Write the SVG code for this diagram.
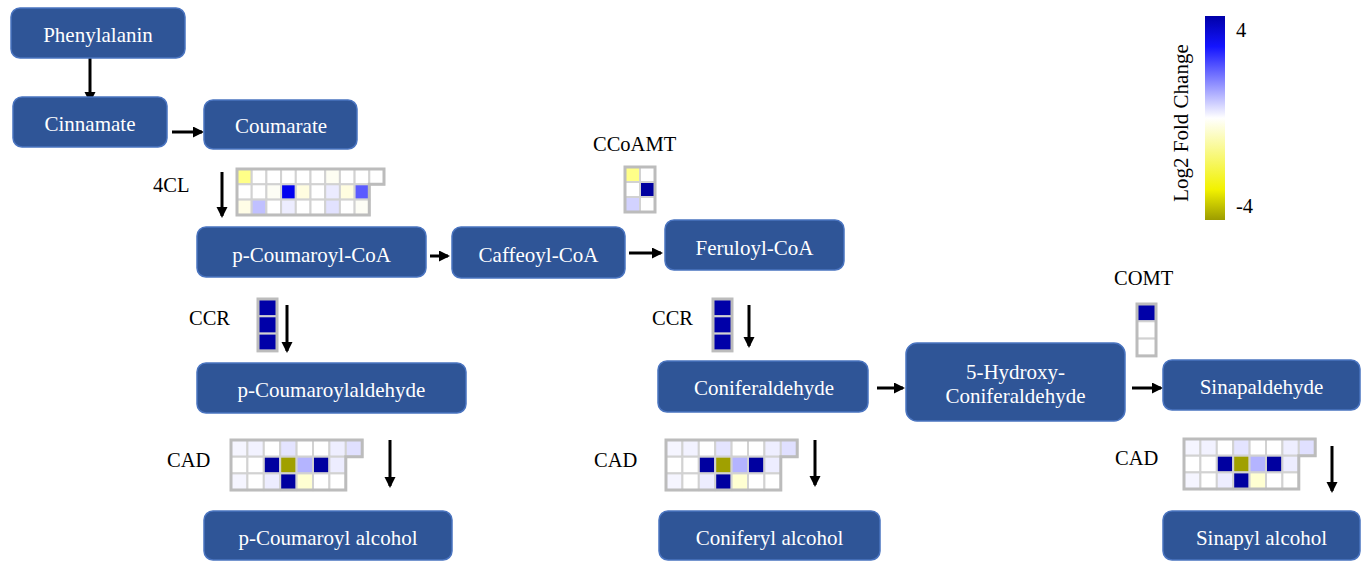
<svg xmlns="http://www.w3.org/2000/svg" xmlns:xlink="http://www.w3.org/1999/xlink" width="1362" height="561" viewBox="0 0 1362 561">
<style>
.node rect{fill:#2F5597;stroke:#4A74C0;stroke-width:1.5}
.node text{fill:#ffffff;font-family:"Liberation Serif","Times New Roman",serif;font-size:21px;text-anchor:middle}
.lbl{fill:#000;font-family:"Liberation Serif","Times New Roman",serif;font-size:20.5px}
.cell{stroke:#d2d2d2;stroke-width:2}
.frame{fill:none;stroke:#bcbcbc;stroke-width:3}
.conn line{stroke:#000;stroke-width:3;marker-end:url(#ah)}
</style>
<defs>
<marker id="ah" markerUnits="userSpaceOnUse" markerWidth="12" markerHeight="12" refX="9" refY="5.5" orient="auto">
<path d="M0,0 L11,5.5 L0,11 z" fill="#000"/>
</marker>
<linearGradient id="lg" x1="0" y1="0" x2="0" y2="1">
<stop offset="0" stop-color="#0000a8"/>
<stop offset="0.15" stop-color="#1414ff"/>
<stop offset="0.5" stop-color="#ffffff"/>
<stop offset="0.85" stop-color="#f2f200"/>
<stop offset="1" stop-color="#9c9c00"/>
</linearGradient>
<g id="cadmap">
<rect class="cell" x="0" y="0" width="16.4" height="16.7" fill="#f5f5ff"/>
<rect class="cell" x="16.4" y="0" width="16.4" height="16.7" fill="#f2f2ff"/>
<rect class="cell" x="32.8" y="0" width="16.4" height="16.7" fill="#ffffff"/>
<rect class="cell" x="49.2" y="0" width="16.4" height="16.7" fill="#e4e4ff"/>
<rect class="cell" x="65.6" y="0" width="16.4" height="16.7" fill="#ffffff"/>
<rect class="cell" x="82" y="0" width="16.4" height="16.7" fill="#ffffff"/>
<rect class="cell" x="98.4" y="0" width="16.4" height="16.7" fill="#eeeeff"/>
<rect class="cell" x="114.8" y="0" width="16.4" height="16.7" fill="#e0e0ff"/>
<rect class="cell" x="0" y="16.7" width="16.4" height="16.7" fill="#ffffff"/>
<rect class="cell" x="16.4" y="16.7" width="16.4" height="16.7" fill="#ffffff"/>
<rect class="cell" x="32.8" y="16.7" width="16.4" height="16.7" fill="#0000a0"/>
<rect class="cell" x="49.2" y="16.7" width="16.4" height="16.7" fill="#a0a000"/>
<rect class="cell" x="65.6" y="16.7" width="16.4" height="16.7" fill="#b4b4ff"/>
<rect class="cell" x="82" y="16.7" width="16.4" height="16.7" fill="#0000a0"/>
<rect class="cell" x="98.4" y="16.7" width="16.4" height="16.7" fill="#ededff"/>
<rect class="cell" x="0" y="33.4" width="16.4" height="16.7" fill="#f5f5ff"/>
<rect class="cell" x="16.4" y="33.4" width="16.4" height="16.7" fill="#ffffff"/>
<rect class="cell" x="32.8" y="33.4" width="16.4" height="16.7" fill="#ededff"/>
<rect class="cell" x="49.2" y="33.4" width="16.4" height="16.7" fill="#0000a0"/>
<rect class="cell" x="65.6" y="33.4" width="16.4" height="16.7" fill="#ffffd2"/>
<rect class="cell" x="82" y="33.4" width="16.4" height="16.7" fill="#ffffff"/>
<rect class="cell" x="98.4" y="33.4" width="16.4" height="16.7" fill="#ffffff"/>
<polygon class="frame" points="0,0 131.2,0 131.2,16.7 114.8,16.7 114.8,50.1 0,50.1"/>
</g>
</defs>
<rect width="1362" height="561" fill="#ffffff"/>

<g id="conn" class="conn">
<line x1="90" y1="58" x2="90" y2="101"/>
<line x1="172" y1="132" x2="202" y2="132"/>
<line x1="222" y1="172" x2="222" y2="216"/>
<line x1="430" y1="256" x2="448" y2="256"/>
<line x1="629" y1="253" x2="661" y2="253"/>
<line x1="287" y1="305" x2="287" y2="351"/>
<line x1="749" y1="305" x2="749" y2="346"/>
<line x1="877" y1="388" x2="903" y2="388"/>
<line x1="1132" y1="388" x2="1161" y2="388"/>
<line x1="390" y1="440" x2="390" y2="486"/>
<line x1="815" y1="440" x2="815" y2="485"/>
<line x1="1332" y1="446" x2="1332" y2="491"/>
</g>

<g id="n-phenylalanin" class="node"><rect x="11" y="8" width="174" height="50" rx="9"/><text x="98" y="42">Phenylalanin</text></g>
<g id="n-cinnamate" class="node"><rect x="13" y="97" width="154" height="50" rx="9"/><text x="90" y="131">Cinnamate</text></g>
<g id="n-coumarate" class="node"><rect x="204" y="100" width="153" height="49" rx="9"/><text x="281" y="133">Coumarate</text></g>
<g id="n-pcoumaroylcoa" class="node"><rect x="197" y="227" width="229" height="50" rx="9"/><text x="311.5" y="262">p-Coumaroyl-CoA</text></g>
<g id="n-caffeoylcoa" class="node"><rect x="452" y="227" width="173" height="51" rx="9"/><text x="538.5" y="262">Caffeoyl-CoA</text></g>
<g id="n-feruloylcoa" class="node"><rect x="665" y="220" width="179" height="50" rx="9"/><text x="754.5" y="255">Feruloyl-CoA</text></g>
<g id="n-pcoumaroylaldehyde" class="node"><rect x="197" y="363" width="269" height="50" rx="9"/><text x="331.5" y="397">p-Coumaroylaldehyde</text></g>
<g id="n-coniferaldehyde" class="node"><rect x="658" y="361" width="210" height="51" rx="9"/><text x="764" y="395">Coniferaldehyde</text></g>
<g id="n-5hydroxy" class="node"><rect x="906" y="343" width="219" height="78" rx="11"/><text x="1015.5" y="379">5-Hydroxy-</text><text x="1015.5" y="403">Coniferaldehyde</text></g>
<g id="n-sinapaldehyde" class="node"><rect x="1163" y="360" width="197" height="50" rx="9"/><text x="1261.5" y="394">Sinapaldehyde</text></g>
<g id="n-pcoumaroylalcohol" class="node"><rect x="204" y="511" width="248" height="49" rx="9"/><text x="328" y="545">p-Coumaroyl alcohol</text></g>
<g id="n-coniferylalcohol" class="node"><rect x="659" y="511" width="221" height="49" rx="9"/><text x="769.5" y="545">Coniferyl alcohol</text></g>
<g id="n-sinapylalcohol" class="node"><rect x="1163" y="511" width="197" height="49" rx="9"/><text x="1261.5" y="545">Sinapyl alcohol</text></g>

<g id="labels">
<text class="lbl" x="153" y="192">4CL</text>
<text class="lbl" x="593" y="151">CCoAMT</text>
<text class="lbl" x="189" y="325">CCR</text>
<text class="lbl" x="652" y="325">CCR</text>
<text class="lbl" x="1114" y="285">COMT</text>
<text class="lbl" x="167" y="467">CAD</text>
<text class="lbl" x="594" y="467">CAD</text>
<text class="lbl" x="1115" y="465">CAD</text>
</g>

<g id="hm-4cl" transform="translate(237,169)">
<rect class="cell" x="0" y="0" width="14.7" height="15.3" fill="#ffff88"/>
<rect class="cell" x="14.7" y="0" width="14.7" height="15.3" fill="#ffffff"/>
<rect class="cell" x="29.4" y="0" width="14.7" height="15.3" fill="#ffffff"/>
<rect class="cell" x="44.1" y="0" width="14.7" height="15.3" fill="#ffffff"/>
<rect class="cell" x="58.8" y="0" width="14.7" height="15.3" fill="#ffffff"/>
<rect class="cell" x="73.5" y="0" width="14.7" height="15.3" fill="#ffffff"/>
<rect class="cell" x="88.2" y="0" width="14.7" height="15.3" fill="#fdfdf2"/>
<rect class="cell" x="102.9" y="0" width="14.7" height="15.3" fill="#ffffff"/>
<rect class="cell" x="117.6" y="0" width="14.7" height="15.3" fill="#ffffff"/>
<rect class="cell" x="132.3" y="0" width="14.7" height="15.3" fill="#ffffff"/>
<rect class="cell" x="0" y="15.3" width="14.7" height="15.3" fill="#ffffff"/>
<rect class="cell" x="14.7" y="15.3" width="14.7" height="15.3" fill="#ffffff"/>
<rect class="cell" x="29.4" y="15.3" width="14.7" height="15.3" fill="#fdfdf5"/>
<rect class="cell" x="44.1" y="15.3" width="14.7" height="15.3" fill="#0000f0"/>
<rect class="cell" x="58.8" y="15.3" width="14.7" height="15.3" fill="#fffde0"/>
<rect class="cell" x="73.5" y="15.3" width="14.7" height="15.3" fill="#ffffff"/>
<rect class="cell" x="88.2" y="15.3" width="14.7" height="15.3" fill="#ebebff"/>
<rect class="cell" x="102.9" y="15.3" width="14.7" height="15.3" fill="#fffde0"/>
<rect class="cell" x="117.6" y="15.3" width="14.7" height="15.3" fill="#5a5aff"/>
<rect class="cell" x="0" y="30.6" width="14.7" height="15.3" fill="#fffde6"/>
<rect class="cell" x="14.7" y="30.6" width="14.7" height="15.3" fill="#c0c0ff"/>
<rect class="cell" x="29.4" y="30.6" width="14.7" height="15.3" fill="#ffffff"/>
<rect class="cell" x="44.1" y="30.6" width="14.7" height="15.3" fill="#ededff"/>
<rect class="cell" x="58.8" y="30.6" width="14.7" height="15.3" fill="#ffffff"/>
<rect class="cell" x="73.5" y="30.6" width="14.7" height="15.3" fill="#ffffff"/>
<rect class="cell" x="88.2" y="30.6" width="14.7" height="15.3" fill="#e2e2ff"/>
<rect class="cell" x="102.9" y="30.6" width="14.7" height="15.3" fill="#ffffff"/>
<rect class="cell" x="117.6" y="30.6" width="14.7" height="15.3" fill="#fdfdf5"/>
<polygon class="frame" points="0,0 147,0 147,15.3 132.3,15.3 132.3,45.9 0,45.9"/>
</g>

<g id="hm-ccoamt" transform="translate(625,167)">
<rect class="cell" x="0" y="0" width="15" height="15" fill="#ffff88"/>
<rect class="cell" x="15" y="0" width="15" height="15" fill="#ffffff"/>
<rect class="cell" x="0" y="15" width="15" height="15" fill="#ffffff"/>
<rect class="cell" x="15" y="15" width="15" height="15" fill="#0000a0"/>
<rect class="cell" x="0" y="30" width="15" height="15" fill="#d2d2ff"/>
<rect class="cell" x="15" y="30" width="15" height="15" fill="#ffffff"/>
<rect class="frame" x="0" y="0" width="30" height="45"/>
</g>

<g id="hm-ccr1" transform="translate(258,299)">
<rect class="cell" x="0" y="0" width="19" height="17.3" fill="#0000a8"/>
<rect class="cell" x="0" y="17.3" width="19" height="17.3" fill="#0000a8"/>
<rect class="cell" x="0" y="34.6" width="19" height="17.3" fill="#0000a8"/>
<rect class="frame" x="0" y="0" width="19" height="51.9"/>
</g>

<g id="hm-ccr2" transform="translate(713,299)">
<rect class="cell" x="0" y="0" width="19" height="17.3" fill="#0000a8"/>
<rect class="cell" x="0" y="17.3" width="19" height="17.3" fill="#0000a8"/>
<rect class="cell" x="0" y="34.6" width="19" height="17.3" fill="#0000a8"/>
<rect class="frame" x="0" y="0" width="19" height="51.9"/>
</g>

<g id="hm-comt" transform="translate(1137,304)">
<rect class="cell" x="0" y="0" width="19" height="17.3" fill="#0000a8"/>
<rect class="cell" x="0" y="17.3" width="19" height="17.3" fill="#ffffff"/>
<rect class="cell" x="0" y="34.6" width="19" height="17.3" fill="#ffffff"/>
<rect class="frame" x="0" y="0" width="19" height="51.9"/>
</g>

<g id="hm-cad1" transform="translate(231,440)"><use xlink:href="#cadmap" href="#cadmap"/></g>
<g id="hm-cad2" transform="translate(666,440)"><use xlink:href="#cadmap" href="#cadmap"/></g>
<g id="hm-cad3" transform="translate(1184,439)"><use xlink:href="#cadmap" href="#cadmap"/></g>

<g id="legend">
<rect x="1205" y="16" width="20" height="204" fill="url(#lg)"/>
<text class="lbl" x="1236" y="37">4</text>
<text class="lbl" x="1236" y="213">-4</text>
<text class="lbl" style="font-size:21px" text-anchor="middle" transform="translate(1188,123) rotate(-90)">Log2 Fold Change</text>
</g>
</svg>
